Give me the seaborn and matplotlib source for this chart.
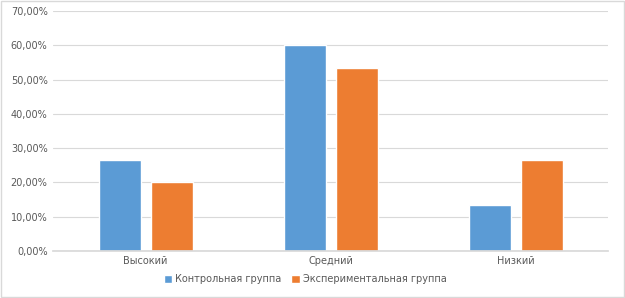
import matplotlib
matplotlib.use("Agg")
import matplotlib.pyplot as plt
import seaborn as sns
import pandas as pd
from matplotlib.ticker import FuncFormatter

categories = ["Высокий", "Средний", "Низкий"]
series_names = ["Контрольная группа", "Экспериментальная группа"]
control = [26.67, 60.00, 13.33]
experimental = [20.00, 53.33, 26.67]

df = pd.DataFrame({
    "cat": categories * 2,
    "group": [series_names[0]] * 3 + [series_names[1]] * 3,
    "val": control + experimental,
})

sns.set_theme(style="white")
plt.rcParams['font.family'] = ['DejaVu Sans']

fig = plt.figure(figsize=(6.25, 2.98), dpi=100)
ax = fig.add_axes([0.085, 0.158, 0.888, 0.805])
sns.barplot(data=df, x="cat", y="val", hue="group", order=categories,
            hue_order=series_names, palette=["#5B9BD5", "#ED7D31"],
            width=0.56, gap=0.19, ax=ax, legend=True, saturation=1)

ax.set_ylim(0, 70)
ax.set_yticks(range(0, 71, 10))
ax.yaxis.set_major_formatter(FuncFormatter(lambda v, p: f"{v:.2f}%".replace(".", ",")))
ax.grid(axis="y", color="#d9d9d9", linewidth=0.8)
ax.set_axisbelow(True)
for s in ["top", "right", "left"]:
    ax.spines[s].set_visible(False)
ax.spines["bottom"].set_color("#d9d9d9")
ax.tick_params(axis="both", length=0, labelsize=7, colors="#595959", pad=4)
ax.set_xlabel("")
ax.set_ylabel("")
ax.set_xlim(-0.5, 2.5)

leg = ax.legend(loc="center", bbox_to_anchor=(0.454, -0.117), ncol=2,
                frameon=False, fontsize=7, handlelength=0.9, handleheight=0.9,
                handletextpad=0.3, columnspacing=1.0, borderpad=0)
for t in leg.get_texts():
    t.set_color("#595959")

fig.patches.append(plt.Rectangle((0.001, 0.002), 0.997, 0.995, transform=fig.transFigure,
                                 fill=False, edgecolor="#d9d9d9", linewidth=1))
fig.savefig("out.png", dpi=100)
